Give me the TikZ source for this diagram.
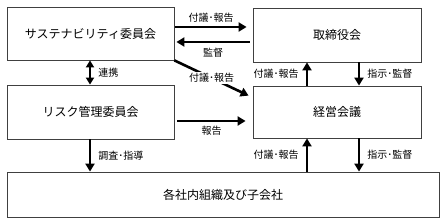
\documentclass[tikz,border=0pt]{standalone}
\usepackage{fontspec}
\setmainfont{Noto Sans CJK JP}
\usetikzlibrary{arrows.meta}
\begin{document}
\begin{tikzpicture}[x=1pt,y=-1pt,
  box/.style={draw=black!75,line width=0.8pt,fill=white,inner sep=0pt,font=\fontsize{12}{14}\selectfont},
  arr/.style={line width=2.6pt,-{Triangle[length=8pt,width=9pt]}},
  darr/.style={line width=2.6pt,{Triangle[length=7pt,width=8pt]}-{Triangle[length=7pt,width=8pt]}},
  lab/.style={font=\fontsize{10}{12}\selectfont,inner sep=1pt}]
\useasboundingbox (0,0) rectangle (445,224);
\node[box,minimum width=167pt,minimum height=53pt] (sus) at (90.5,33.5) {サステナビリティ委員会};
\node[box,minimum width=168pt,minimum height=54pt] (tor) at (337,35) {取締役会};
\node[box,minimum width=167pt,minimum height=54pt] (risk) at (90.5,112) {リスク管理委員会};
\node[box,minimum width=168pt,minimum height=52pt] (kei) at (337,112) {経営会議};
\node[box,minimum width=432pt,minimum height=45pt] (all) at (223,194.5) {各社内組織及び子会社};
% top horizontal arrows
\coordinate (a1s) at (sus.east |- 0,27);
\coordinate (a1e) at (tor.west |- 0,27);
\draw[arr] ([xshift=1pt]a1s) -- ([xshift=-6pt]a1e) node[lab,midway,above=2pt] {付議･報告};
\coordinate (a2s) at (tor.west |- 0,42);
\coordinate (a2e) at (sus.east |- 0,42);
\draw[arr] ([xshift=-3pt]a2s) -- ([xshift=2pt]a2e) node[lab,midway,below=4pt] {監督};
% diagonal
\draw[arr] (sus.south east) -- ([xshift=-4pt,yshift=-10pt]kei.north west) node[lab,pos=0.5,fill=white] {付議･報告};
% 連携
\draw[darr] (sus.south -| 90,0) -- (risk.north -| 90,0) node[lab,midway,right=6pt] {連携};
% 報告
\coordinate (r1) at (risk.east |- 0,121);
\coordinate (r2) at (kei.west |- 0,121);
\draw[arr] ([xshift=3pt]r1) -- ([xshift=-7pt]r2) node[lab,midway,below=3pt] {報告};
% 調査・指導
\draw[arr] (risk.south -| 90,0) -- (all.north -| 90,0) node[lab,midway,right=6pt] {調査･指導};
% between tor and kei
\draw[arr] (kei.north -| 307,0) -- (tor.south -| 307,0) node[lab,midway,left=6pt] {付議･報告};
\draw[arr] (tor.south -| 359,0) -- (kei.north -| 359,0) node[lab,midway,right=6pt] {指示･監督};
% between kei and all
\draw[arr] (all.north -| 307,0) -- (kei.south -| 307,0) node[lab,midway,left=6pt] {付議･報告};
\draw[arr] (kei.south -| 359,0) -- (all.north -| 359,0) node[lab,midway,right=6pt] {指示･監督};
\end{tikzpicture}
\end{document}
